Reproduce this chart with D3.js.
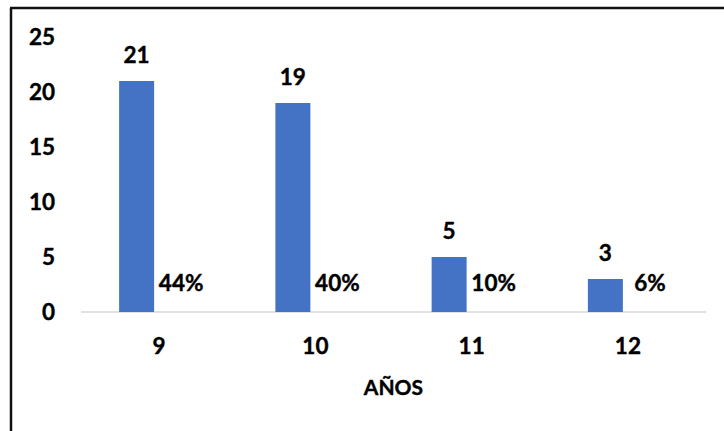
<!DOCTYPE html>
<html>
<head>
<meta charset="utf-8">
<script src="https://cdn.jsdelivr.net/npm/d3@7"></script>
<style>
html,body{margin:0;padding:0;background:#fff;}
svg text{font-family:Lato,"Open Sans",sans-serif;font-weight:bold;fill:#000;stroke:#000;stroke-width:0.4px;}
</style>
</head>
<body>
<svg id="chart" width="724" height="431"></svg>
<script>
const categories = ["9", "10", "11", "12"];
const counts = [21, 19, 5, 3];
const percents = ["44%", "40%", "10%", "6%"];
const yTicks = [0, 5, 10, 15, 20, 25];
const xTitle = "AÑOS";

(function () {
const svg = d3.select("#chart");
const W = 724, H = 431;
const mLeft = 81, mRight = 706, mTop = 37, mBottom = 312;
const FS = "22.5px";

// frame (left and top edges)
svg.append("line").attr("x1", 11).attr("x2", 11).attr("y1", 8).attr("y2", H).attr("stroke", "#111").attr("stroke-width", 2.5);
svg.append("line").attr("x1", 10).attr("x2", W).attr("y1", 8).attr("y2", 8).attr("stroke", "#111").attr("stroke-width", 2.5);

const x0 = d3.scaleBand().domain(categories).range([mLeft, mRight]).padding(0);
const bw = x0.bandwidth();
const x1 = d3.scaleBand().domain(["count", "pct"]).range([bw / 2 - 40, bw / 2 + 39.5]).paddingInner(0.2135).paddingOuter(0);
const y = d3.scaleLinear().domain([0, 25]).range([mBottom, mTop]);

// y axis labels
const yAxis = svg.append("g").attr("transform", `translate(${mLeft},0)`)
  .call(d3.axisLeft(y).tickValues(yTicks).tickSize(0).tickPadding(26));
yAxis.select(".domain").remove();
yAxis.selectAll("text").style("font-size", FS).style("font-family", "Lato").style("font-weight", "bold").attr("fill", "#000");

// baseline
svg.append("line").attr("x1", mLeft).attr("x2", mRight).attr("y1", y(0)).attr("y2", y(0)).attr("stroke", "#d9d9d9").attr("stroke-width", 1.5);

// bars
const g = svg.append("g");
g.selectAll("rect").data(counts).join("rect")
  .attr("x", (d, i) => x0(categories[i]) + x1("count"))
  .attr("y", d => y(d))
  .attr("width", x1.bandwidth())
  .attr("height", d => y(0) - y(d))
  .attr("fill", "#4472C4");

// value labels
g.selectAll("text.val").data(counts).join("text").attr("class", "val")
  .attr("x", (d, i) => x0(categories[i]) + x1("count") + x1.bandwidth() / 2)
  .attr("y", d => y(d) - 18)
  .attr("text-anchor", "middle")
  .style("font-size", FS)
  .text(d => d);

// percentage labels
g.selectAll("text.pct").data(percents).join("text").attr("class", "pct")
  .attr("x", (d, i) => x0(categories[i]) + x1("pct") + x1.bandwidth() / 2)
  .attr("y", y(0) - 21)
  .attr("text-anchor", "middle")
  .style("font-size", FS)
  .text(d => d);

// x axis labels
const xAxis = svg.append("g").attr("transform", `translate(0,${mBottom})`)
  .call(d3.axisBottom(x0).tickSize(0).tickPadding(26));
xAxis.select(".domain").remove();
xAxis.selectAll("text").style("font-size", FS).style("font-family", "Lato").style("font-weight", "bold").attr("fill", "#000");

// x title
svg.append("text").attr("x", (mLeft + mRight) / 2).attr("y", 395)
  .attr("text-anchor", "middle").style("font-size", "21px").text(xTitle);
})();
</script>
</body>
</html>
